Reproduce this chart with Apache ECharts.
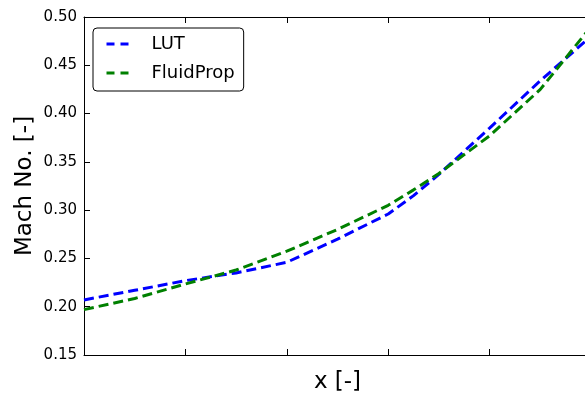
<!DOCTYPE html>
<html>
<head>
<meta charset="utf-8">
<script src="https://cdn.jsdelivr.net/npm/echarts@6/dist/echarts.min.js"></script>
<style>
html,body{margin:0;padding:0;background:#fff;}
#chart{width:585px;height:394px;}
</style>
</head>
<body>
<div id="chart"></div>
<script>
const xValues = [0, 0.5, 1.0, 1.5, 2.0, 2.5, 3.0, 3.25, 3.5, 4.0, 4.5, 5.0];
const lutValues = [0.207, 0.217, 0.227, 0.235, 0.246, 0.270, 0.296, 0.315, 0.337, 0.385, 0.434, 0.480];
const fluidPropValues = [0.197, 0.2085, 0.2235, 0.238, 0.2575, 0.280, 0.305, 0.321, 0.338, 0.377, 0.425, 0.490];
const yTicks = [0.15, 0.20, 0.25, 0.30, 0.35, 0.40, 0.45, 0.50];
const seriesNames = ['LUT', 'FluidProp'];
const seriesColors = ['#0000ff', '#008000'];
const xLabel = 'x [-]';
const yLabel = 'Mach No. [-]';

const FONT = 'DejaVu Sans';
const DASH = [10, 5];
const chart = echarts.init(document.getElementById('chart'), null, {renderer: 'canvas'});

function pairs(xs, ys) { return xs.map((x, i) => [x, ys[i]]); }

const tickStyle = {show: true, inside: true, length: 6, lineStyle: {color: '#000', width: 1}};
chart.setOption({
  animation: false,
  backgroundColor: '#fff',
  grid: {left: 84, top: 17, width: 507, height: 338, outerBoundsMode: 'none', containLabel: false},
  legend: {
    left: 93, top: 28, orient: 'vertical',
    itemWidth: 26, itemHeight: 14, itemGap: 11,
    padding: [7, 9, 9, 12],
    borderColor: '#000', borderWidth: 1, borderRadius: 4,
    backgroundColor: '#fff',
    itemStyle: {opacity: 0},
    textStyle: {fontFamily: FONT, fontSize: 18, color: '#000', padding: [0, 0, 0, 14]},
    data: seriesNames.map((n, i) => ({
      name: n,
      itemStyle: {opacity: 0},
      lineStyle: {color: seriesColors[i], width: 3, type: [8, 6], cap: 'butt'}
    }))
  },
  xAxis: [{
    type: 'value', min: 0, max: 5, interval: 1, position: 'bottom',
    name: xLabel, nameLocation: 'middle', nameGap: 16,
    nameTextStyle: {fontFamily: FONT, fontSize: 23, color: '#000'},
    axisLine: {show: true, onZero: false, lineStyle: {color: '#000', width: 1}},
    axisTick: tickStyle, axisLabel: {show: false}, splitLine: {show: false}
  }, {
    type: 'value', min: 0, max: 5, interval: 1, position: 'top',
    axisLine: {show: true, onZero: false, lineStyle: {color: '#000', width: 1}},
    axisTick: tickStyle, axisLabel: {show: false}, splitLine: {show: false}
  }],
  yAxis: {
    type: 'value', min: yTicks[0], max: yTicks[yTicks.length - 1], interval: 0.05,
    name: yLabel, nameLocation: 'middle', nameGap: 47, nameRotate: 90, nameMoveOverlap: false,
    nameTextStyle: {fontFamily: FONT, fontSize: 23, color: '#000'},
    axisLine: {show: true, onZero: false, lineStyle: {color: '#000', width: 1}},
    axisTick: tickStyle,
    axisLabel: {margin: 7, fontFamily: FONT, fontSize: 15, color: '#000', formatter: v => v.toFixed(2)},
    splitLine: {show: false}
  },
  series: seriesNames.map((n, i) => ({
    name: n, type: 'line', data: pairs(xValues, i === 0 ? lutValues : fluidPropValues),
    showSymbol: false, symbol: 'none',
    lineStyle: {color: seriesColors[i], width: 3, type: DASH, cap: 'butt'},
    itemStyle: {color: seriesColors[i]}
  }))
});
</script>
</body>
</html>
